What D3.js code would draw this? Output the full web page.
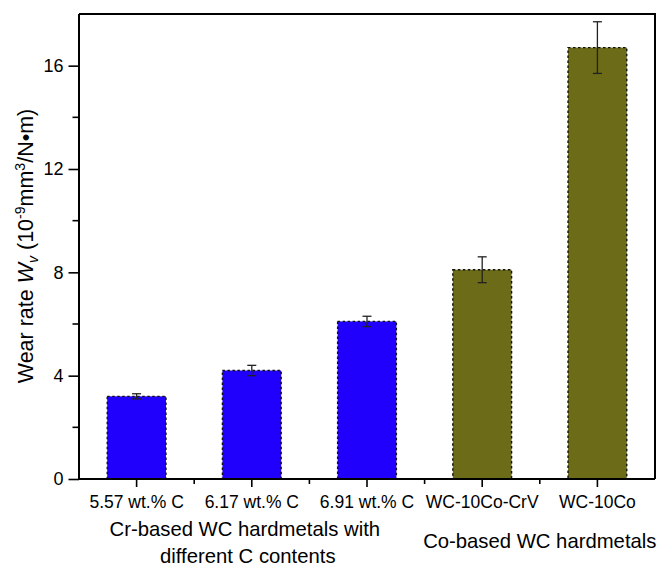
<!DOCTYPE html>
<html>
<head>
<meta charset="utf-8">
<script src="https://cdn.jsdelivr.net/npm/d3@7/dist/d3.min.js"></script>
<style>
  html, body { margin: 0; padding: 0; background: #fff; }
  svg { display: block; font-family: "Liberation Sans", Arial, sans-serif; }
</style>
</head>
<body>
<svg id="chart" width="660" height="569"></svg>
<script>
// Wear rate of WC hardmetals (10^-9 mm^3/N·m)
const categories = ["5.57 wt.% C", "6.17 wt.% C", "6.91 wt.% C", "WC-10Co-CrV", "WC-10Co"];
const wearRate   = [3.2, 4.2, 6.1, 8.1, 16.7];
const wearError  = [0.1, 0.2, 0.2, 0.5, 1.0];
const binderType = ["Cr", "Cr", "Cr", "Co", "Co"];

const yMajorTicks = [0, 4, 8, 12, 16];
const yMinorTicks = [2, 6, 10, 14];

const groupNames = ["Cr", "Co"];
const groupLabels = [
  ["Cr-based WC hardmetals with", "different C contents"],
  ["Co-based WC hardmetals"]
];

const fillColor = { Cr: "#2000fc", Co: "#6b6b18" };

const svg = d3.select("#chart");
const plot = { left: 79, right: 655, top: 14, bottom: 479 };

const x = d3.scaleBand().domain(categories).range([plot.left, plot.right]).padding(0);
const y = d3.scaleLinear().domain([0, 18]).range([plot.bottom, plot.top]);
const barW = x.bandwidth() * 0.51;

// bars
const data = categories.map((c, i) => ({ c, v: wearRate[i], e: wearError[i], g: binderType[i] }));

svg.append("g").selectAll("rect").data(data).join("rect")
  .attr("x", d => x(d.c) + (x.bandwidth() - barW) / 2)
  .attr("y", d => y(d.v))
  .attr("width", barW)
  .attr("height", d => y(0) - y(d.v))
  .attr("fill", d => fillColor[d.g])
  .attr("stroke", "#111")
  .attr("stroke-width", 1.4)
  .attr("stroke-dasharray", "2.5,2.5");

// error bars
const eb = svg.append("g").attr("stroke", "#222").attr("stroke-width", 1.3);
data.forEach(d => {
  const cx = x(d.c) + x.bandwidth() / 2;
  eb.append("line").attr("x1", cx).attr("x2", cx).attr("y1", y(d.v + d.e)).attr("y2", y(d.v - d.e));
  eb.append("line").attr("x1", cx - 4.5).attr("x2", cx + 4.5).attr("y1", y(d.v + d.e)).attr("y2", y(d.v + d.e));
  eb.append("line").attr("x1", cx - 4.5).attr("x2", cx + 4.5).attr("y1", y(d.v - d.e)).attr("y2", y(d.v - d.e));
});

// frame (top and right)
svg.append("path")
  .attr("d", `M${plot.left},${plot.top}H${plot.right}V${plot.bottom}`)
  .attr("fill", "none").attr("stroke", "#000").attr("stroke-width", 2);

// y axis
const yAxis = d3.axisLeft(y).tickValues(yMajorTicks).tickSize(10.5).tickPadding(5).tickFormat(d3.format("d"));
const yg = svg.append("g").attr("transform", `translate(${plot.left},0)`).call(yAxis);
yg.select(".domain").attr("stroke-width", 2).attr("d", `M0,${plot.top}V${plot.bottom}`);
yg.selectAll(".tick line").attr("stroke-width", 1.6);
yg.selectAll(".tick text").attr("font-size", 18).attr("fill", "#000");
yg.selectAll(".minor").data(yMinorTicks).join("line").attr("class", "minor")
  .attr("x1", -6.5).attr("x2", 0).attr("y1", d => y(d)).attr("y2", d => y(d))
  .attr("stroke", "#000").attr("stroke-width", 1.6);

// x axis
const xAxis = d3.axisBottom(x).tickSize(8).tickPadding(9);
const xg = svg.append("g").attr("transform", `translate(0,${plot.bottom})`).call(xAxis);
xg.select(".domain").attr("stroke-width", 2).attr("d", `M${plot.left},0H${plot.right}`);
xg.selectAll(".tick line").attr("stroke-width", 1.6);
xg.selectAll(".tick text").attr("font-size", 17.5).attr("fill", "#000");
// minor ticks at category boundaries
const boundaries = categories.slice(1).map(c => x(c));
xg.selectAll(".minor").data(boundaries).join("line").attr("class", "minor")
  .attr("x1", d => d).attr("x2", d => d).attr("y1", 0).attr("y2", 5)
  .attr("stroke", "#000").attr("stroke-width", 1.6);

// group labels under the axis
groupNames.forEach((g, gi) => {
  const members = categories.filter((c, i) => binderType[i] === g);
  const cx = d3.mean(members, c => x(c) + x.bandwidth() / 2) + (g === "Cr" ? -7 : 0);
  const lines = groupLabels[gi];
  const baseY = lines.length > 1 ? 536 : 548;
  const t = svg.append("text").attr("text-anchor", "middle").attr("font-size", 20.3).attr("fill", "#000");
  lines.forEach((ln, li) => {
    t.append("tspan").attr("x", cx + (li === 1 ? 3 : 0)).attr("y", baseY + li * 27).text(ln);
  });
});

// y axis title
const yt = svg.append("text")
  .attr("transform", `translate(33,246) rotate(-90)`)
  .attr("text-anchor", "middle").attr("font-size", 21.5).attr("fill", "#000");
yt.append("tspan").text("Wear rate ");
yt.append("tspan").attr("font-style", "italic").text("W");
yt.append("tspan").attr("font-size", 14).attr("font-style", "italic").attr("dy", 5).text("v");
yt.append("tspan").attr("dy", -5).text(" (10");
yt.append("tspan").attr("font-size", 14).attr("dy", -8).text("-9");
yt.append("tspan").attr("dy", 8).text("mm");
yt.append("tspan").attr("font-size", 14).attr("dy", -8).text("3");
yt.append("tspan").attr("dy", 8).text("/N\u2022m)");
</script>
</body>
</html>
